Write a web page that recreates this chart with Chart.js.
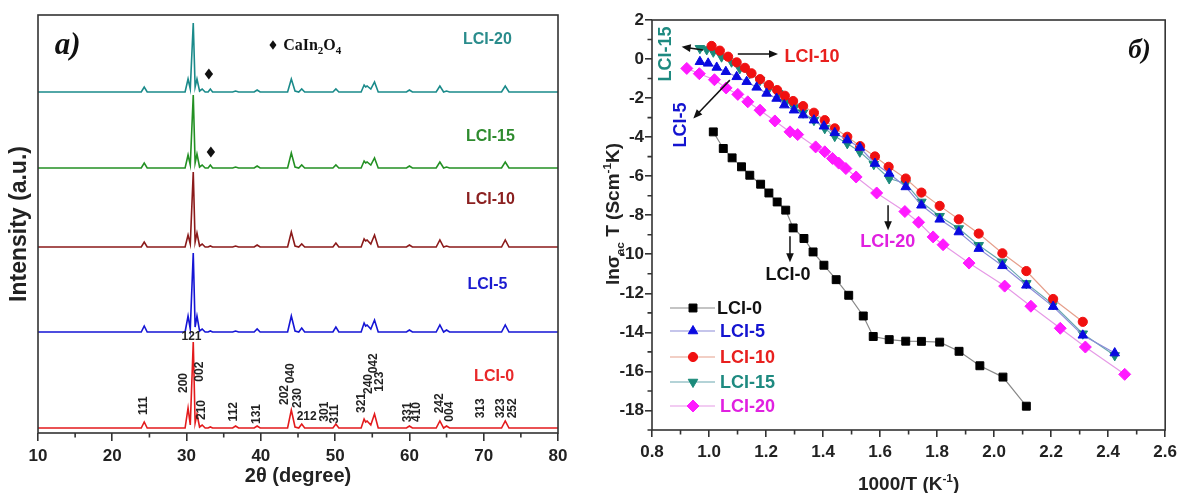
<!DOCTYPE html>
<html>
<head>
<meta charset="utf-8">
<script src="https://cdn.jsdelivr.net/npm/chart.js@4.4.0/dist/chart.umd.min.js"></script>
<style>
  html, body { margin: 0; padding: 0; background: #fff; }
  #wrap { position: relative; width: 1182px; height: 493px; }
  #xrd { position: absolute; left: 0; top: 0; }
  #cond { position: absolute; left: 590px; top: 0; }
</style>
</head>
<body>
<div id="wrap">
  <canvas id="xrd" width="590" height="493"></canvas>
  <canvas id="cond" width="592" height="493"></canvas>
</div>
<script>
// ---- panel a) XRD patterns ----
const sampleNames = ['LCI-0', 'LCI-5', 'LCI-10', 'LCI-15', 'LCI-20'];

const twoTheta = [10,
  23.9, 24.3, 24.7,
  29.8, 30.2, 30.5, 30.9, 31.15, 31.4, 31.75, 32.1, 32.5,
  32.9, 33.2, 33.5,
  36.2, 36.6, 37.0,
  39.1, 39.5, 39.9,
  43.6, 44.1, 44.6,
  45.1, 45.5, 45.9,
  49.7, 50.1, 50.5,
  53.5, 53.9, 54.1, 54.3, 54.8, 55.3, 55.8,
  59.6, 60.0, 60.4,
  63.6, 64.1, 64.6, 65.0, 65.4,
  72.4, 72.9, 73.4,
  80];

const intLCI0 = [0, 0, 6, 0, 0, 20, 3, 86, 5, 14, 1, 3, 0, 0, 1, 0, 0, 2, 0, 0, 2, 0, 0, 18, 1, 0, 4, 0, 0, 4, 0, 0, 9, 6, 7, 3, 14, 0, 0, 2, 0, 0, 7, 0, 2, 0, 0, 7, 0, 0];
const intLCI5 = [0, 0, 6, 0, 0, 16, 3, 79, 5, 16, 1, 3, 0, 0, 1, 0, 0, 1, 0, 0, 3, 0, 0, 16, 1, 0, 4, 0, 0, 5, 0, 0, 9, 6, 7, 3, 12, 0, 0, 2, 0, 0, 7, 0, 2, 0, 0, 7, 0, 0];
const intLCI10 = [0, 0, 5, 0, 0, 12, 3, 75, 5, 14, 1, 3, 0, 0, 1, 0, 0, 1, 0, 0, 2, 0, 0, 15, 1, 0, 3, 0, 0, 4, 0, 0, 8, 6, 7, 3, 12, 0, 0, 2, 0, 0, 7, 0, 1, 0, 0, 7, 0, 0];
const intLCI15 = [0, 0, 5, 0, 0, 13, 3, 73, 5, 14, 1, 3, 0, 0, 3, 0, 0, 1, 0, 0, 2, 0, 0, 15, 1, 0, 3, 0, 0, 3, 0, 0, 7, 5, 6, 3, 10, 0, 0, 2, 0, 0, 6, 0, 1, 0, 0, 6, 0, 0];
const intLCI20 = [0, 0, 5, 0, 0, 13, 3, 69, 5, 13, 1, 3, 0, 0, 3, 0, 0, 1, 0, 0, 2, 0, 0, 13, 1, 0, 3, 0, 0, 3, 0, 0, 7, 5, 6, 3, 10, 0, 0, 2, 0, 0, 6, 0, 1, 0, 0, 6, 0, 0];

const xrdTicks = [10, 20, 30, 40, 50, 60, 70, 80];
const xrdMinor = [15, 25, 35, 45, 55, 65, 75];

const hklText = ['111', '200', '002', '121', '210', '112', '131', '202', '040', '230', '212', '301', '311', '321', '240', '042', '123', '331', '410', '242', '004', '313', '323', '252'];

// ---- panel б) conductivity ----
const lci0X = [1.015, 1.050, 1.081, 1.114, 1.143, 1.181, 1.210, 1.239, 1.269, 1.295, 1.333, 1.365, 1.403, 1.446, 1.490, 1.541, 1.576, 1.632, 1.690, 1.745, 1.809, 1.877, 1.950, 2.031, 2.113];
const lci0Y = [-3.73, -4.58, -5.06, -5.52, -5.95, -6.41, -6.86, -7.32, -7.74, -8.65, -9.19, -9.88, -10.56, -11.30, -12.10, -13.16, -14.21, -14.37, -14.45, -14.46, -14.50, -14.97, -15.71, -16.29, -17.78];

const lci5X = [0.968, 0.997, 1.027, 1.059, 1.097, 1.132, 1.167, 1.202, 1.237, 1.264, 1.298, 1.330, 1.368, 1.403, 1.441, 1.485, 1.529, 1.582, 1.632, 1.690, 1.745, 1.809, 1.876, 1.946, 2.029, 2.113, 2.207, 2.311, 2.423];
const lci5Y = [-0.14, -0.22, -0.43, -0.65, -0.91, -1.16, -1.45, -1.76, -2.02, -2.36, -2.62, -2.87, -3.13, -3.44, -3.78, -4.15, -4.53, -5.35, -5.86, -6.55, -7.49, -8.21, -8.86, -9.71, -10.59, -11.59, -12.68, -14.15, -15.06];

const lci10X = [1.009, 1.038, 1.067, 1.097, 1.126, 1.149, 1.179, 1.210, 1.239, 1.266, 1.295, 1.330, 1.368, 1.406, 1.441, 1.485, 1.530, 1.582, 1.630, 1.690, 1.745, 1.809, 1.876, 1.946, 2.029, 2.113, 2.207, 2.311];
const lci10Y = [0.67, 0.43, 0.12, -0.17, -0.45, -0.73, -1.03, -1.33, -1.59, -1.88, -2.15, -2.41, -2.75, -3.13, -3.55, -3.98, -4.46, -4.99, -5.52, -6.12, -6.84, -7.52, -8.21, -8.94, -9.95, -10.86, -12.29, -13.46];

const lci15X = [0.968, 0.992, 1.015, 1.044, 1.079, 1.108, 1.143, 1.179, 1.210, 1.243, 1.269, 1.299, 1.330, 1.368, 1.406, 1.441, 1.485, 1.529, 1.578, 1.632, 1.690, 1.745, 1.809, 1.876, 1.946, 2.029, 2.113, 2.207, 2.311, 2.423];
const lci15Y = [0.55, 0.49, 0.37, 0.12, -0.14, -0.48, -0.73, -1.08, -1.50, -1.76, -2.19, -2.48, -2.75, -3.13, -3.55, -3.95, -4.32, -4.75, -5.39, -6.12, -6.37, -7.32, -8.05, -8.68, -9.54, -10.39, -11.49, -12.57, -14.07, -15.18];

const lci20X = [0.922, 0.966, 1.019, 1.060, 1.101, 1.136, 1.179, 1.231, 1.284, 1.311, 1.374, 1.406, 1.433, 1.455, 1.480, 1.516, 1.588, 1.687, 1.735, 1.786, 1.821, 1.912, 2.037, 2.129, 2.232, 2.320, 2.458];
const lci20Y = [-0.48, -0.75, -1.06, -1.48, -1.81, -2.19, -2.62, -3.17, -3.73, -3.87, -4.50, -4.75, -5.09, -5.33, -5.61, -6.04, -6.86, -7.81, -8.36, -9.11, -9.51, -10.45, -11.63, -12.66, -13.79, -14.75, -16.15];

const condXTicks = [0.8, 1.0, 1.2, 1.4, 1.6, 1.8, 2.0, 2.2, 2.4, 2.6];
const condXMinor = [0.9, 1.1, 1.3, 1.5, 1.7, 1.9, 2.1, 2.3, 2.5];
const condYTicks = [-18, -16, -14, -12, -10, -8, -6, -4, -2, 0, 2];
const condYMinor = [-19, -17, -15, -13, -11, -9, -7, -5, -3, -1, 1];

// ---- layout / style ----
const SANS = '"Liberation Sans", Arial, sans-serif';
const SERIF = '"Liberation Serif", "Times New Roman", serif';
Chart.defaults.font.family = SANS;

const xrdStackOffset = [5, 101, 186, 265, 341];
const xrdLineColors = ['#e31a1c', '#1515d5', '#8b1a1a', '#239023', '#1a8a8a'];
const xrdTextColors = ['#e8282a', '#1c1cd0', '#8b2020', '#2e8b2e', '#2a8c8c'];
const nameTheta = [71.4, 70.5, 70.9, 70.9, 70.5];
const nameLevel = [56, 148, 233, 296, 393];
const hklTheta = [24.23, 29.63, 31.78, 30.66, 32.01, 36.37, 39.43, 43.25, 44.02, 44.96, 46.17, 48.64, 49.90, 53.59, 54.48, 55.16, 56.06, 59.74, 60.92, 64.06, 65.41, 69.55, 72.34, 73.96];
const hklLevel = [27.3, 50, 61.3, 96.3, 23, 21.3, 19, 38, 59.7, 35, 16.3, 21.3, 19, 30, 49, 69.7, 51.3, 20.7, 21, 29.7, 21.3, 24.7, 24.7, 24.7];
const hklFlat = ['121', '212'];

const condMarker = ['#000000', '#0a0ae0', '#f01010', '#1a8a7a', '#ff1aff'];
const condLine = ['#8a8a8a', '#8b8bd8', '#e6a08c', '#6aa8b0', '#e69ae6'];
const condText = ['#111111', '#1414d0', '#e8201e', '#1e8a80', '#e020e0'];
const condStyle = ['rect', 'triangle', 'circle', 'triangle', 'rectRot'];
const condRot = [0, 0, 0, 180, 0];
const condRadius = [5.6, 5.5, 4.6, 5.5, 6];

function diamond(ctx, cx, cy, hw, hh) {
  ctx.beginPath();
  ctx.moveTo(cx, cy - hh); ctx.lineTo(cx + hw, cy); ctx.lineTo(cx, cy + hh); ctx.lineTo(cx - hw, cy);
  ctx.closePath(); ctx.fill();
}

function arrow(ctx, x1, y1, x2, y2) {
  const a = Math.atan2(y2 - y1, x2 - x1), h = 9, w = 3.8;
  ctx.beginPath(); ctx.moveTo(x1, y1);
  ctx.lineTo(x2 - Math.cos(a) * h * 0.7, y2 - Math.sin(a) * h * 0.7); ctx.stroke();
  ctx.beginPath(); ctx.moveTo(x2, y2);
  ctx.lineTo(x2 - h * Math.cos(a) + w * Math.sin(a), y2 - h * Math.sin(a) - w * Math.cos(a));
  ctx.lineTo(x2 - h * Math.cos(a) - w * Math.sin(a), y2 - h * Math.sin(a) + w * Math.cos(a));
  ctx.closePath(); ctx.fill();
}

// text with sub/superscripts, centred on (cx, cy)
function richText(ctx, parts, cx, cy, size, color, family, rotate) {
  ctx.save();
  ctx.translate(cx, cy);
  if (rotate) ctx.rotate(-Math.PI / 2);
  ctx.fillStyle = color;
  ctx.textAlign = 'left';
  ctx.textBaseline = 'alphabetic';
  let total = 0;
  const widths = parts.map(p => {
    ctx.font = 'bold ' + (p.s ? size * 0.62 : size) + 'px ' + family;
    const w = ctx.measureText(p.t).width;
    total += w;
    return w;
  });
  let x = -total / 2;
  parts.forEach((p, i) => {
    ctx.font = 'bold ' + (p.s ? size * 0.62 : size) + 'px ' + family;
    const dy = p.s === 'sub' ? size * 0.28 : p.s === 'sup' ? -size * 0.42 : 0;
    ctx.fillText(p.t, x, size * 0.36 + dy);
    x += widths[i];
  });
  ctx.restore();
}

function frame(ctx, ca) {
  ctx.strokeStyle = '#333';
  ctx.lineWidth = 1.6;
  ctx.strokeRect(ca.left, ca.top, ca.right - ca.left, ca.bottom - ca.top);
}

const tickFont = { family: SANS, size: 17, weight: 'bold' };

// ---------- XRD chart ----------
const xrdSeries = [intLCI0, intLCI5, intLCI10, intLCI15, intLCI20];
const xrdDatasets = sampleNames.map((name, i) => ({
  label: name,
  data: twoTheta.map((t, k) => ({ x: t, y: xrdStackOffset[i] + xrdSeries[i][k] })),
  borderColor: xrdLineColors[i],
  borderWidth: 1.6,
  pointRadius: 0,
  tension: 0,
  fill: false
}));

const xrdDecor = {
  id: 'xrdDecor',
  afterDraw(chart) {
    const { ctx, chartArea: ca, scales: { x, y } } = chart;
    ctx.save();
    frame(ctx, ca);
    ctx.beginPath();
    xrdMinor.forEach(v => { const p = x.getPixelForValue(v); ctx.moveTo(p, ca.bottom); ctx.lineTo(p, ca.bottom + 4.5); });
    ctx.stroke();

    ctx.textAlign = 'center';
    ctx.textBaseline = 'middle';
    ctx.font = 'bold 16px ' + SANS;
    sampleNames.forEach((n, i) => {
      ctx.fillStyle = xrdTextColors[i];
      ctx.fillText(n, x.getPixelForValue(nameTheta[i]), y.getPixelForValue(nameLevel[i]));
    });

    ctx.fillStyle = '#222';
    ctx.font = 'bold 12px ' + SANS;
    hklText.forEach((t, i) => {
      const px = x.getPixelForValue(hklTheta[i]), py = y.getPixelForValue(hklLevel[i]);
      ctx.save();
      ctx.translate(px, py);
      if (!hklFlat.includes(t)) ctx.rotate(-Math.PI / 2);
      ctx.fillText(t, 0, 0);
      ctx.restore();
    });

    // CaIn2O4 markers
    ctx.fillStyle = '#111';
    diamond(ctx, x.getPixelForValue(33.0), y.getPixelForValue(359), 4.2, 5.5);
    diamond(ctx, x.getPixelForValue(33.27), y.getPixelForValue(281), 4.2, 5.5);
    diamond(ctx, x.getPixelForValue(41.63), y.getPixelForValue(388), 3.5, 4.8);
    ctx.font = 'bold 16px ' + SERIF;
    ctx.textAlign = 'left';
    let tx = x.getPixelForValue(43.0);
    const ty = y.getPixelForValue(388) + 5;
    ctx.textBaseline = 'alphabetic';
    [['CaIn', 0], ['2', 1], ['O', 0], ['4', 1]].forEach(([s, sub]) => {
      ctx.font = 'bold ' + (sub ? 11 : 16) + 'px ' + SERIF;
      ctx.fillText(s, tx, ty + (sub ? 4 : 0));
      tx += ctx.measureText(s).width;
    });

    ctx.font = 'italic bold 31px ' + SERIF;
    ctx.textAlign = 'center';
    ctx.textBaseline = 'middle';
    ctx.fillText('a)', x.getPixelForValue(13.98), y.getPixelForValue(387));
    ctx.restore();
  }
};

new Chart(document.getElementById('xrd'), {
  type: 'line',
  data: { datasets: xrdDatasets },
  options: {
    responsive: false,
    animation: false,
    layout: { padding: { left: 0, right: 32, top: 15, bottom: 0 } },
    plugins: { legend: { display: false }, tooltip: { enabled: false } },
    scales: {
      x: {
        type: 'linear', min: 10, max: 80,
        afterBuildTicks: s => { s.ticks = xrdTicks.map(v => ({ value: v })); },
        afterFit: s => { s.height = 60; },
        border: { display: false },
        grid: { drawOnChartArea: false, tickLength: 8, color: '#333', lineWidth: 1.6 },
        ticks: { font: tickFont, color: '#222', padding: 5, maxRotation: 0 },
        title: { display: true, text: '2θ (degree)', font: { family: SANS, size: 20, weight: 'bold' }, color: '#222', padding: { top: 0, bottom: 5 } }
      },
      y: {
        min: 0, max: 418,
        afterFit: s => { s.width = 38; },
        border: { display: false },
        grid: { display: false },
        ticks: { display: false },
        title: { display: true, text: 'Intensity (a.u.)', font: { family: SANS, size: 23, weight: 'bold' }, color: '#222', padding: { top: 6, bottom: 0 } }
      }
    }
  },
  plugins: [xrdDecor]
});

// ---------- conductivity chart ----------
const condXs = [lci0X, lci5X, lci10X, lci15X, lci20X];
const condYs = [lci0Y, lci5Y, lci10Y, lci15Y, lci20Y];
const condDatasets = sampleNames.map((name, i) => ({
  label: name,
  data: condXs[i].map((v, k) => ({ x: v, y: condYs[i][k] })),
  showLine: true,
  borderColor: condLine[i],
  borderWidth: 1.2,
  pointStyle: condStyle[i],
  rotation: condRot[i],
  pointRotation: condRot[i],
  pointRadius: condRadius[i],
  pointBackgroundColor: condMarker[i],
  pointBorderColor: condMarker[i],
  pointBorderWidth: 1
}));

const condDecor = {
  id: 'condDecor',
  afterDraw(chart) {
    const { ctx, chartArea: ca, scales: { x, y } } = chart;
    const X = v => x.getPixelForValue(v), Y = v => y.getPixelForValue(v);
    ctx.save();
    frame(ctx, ca);
    ctx.beginPath();
    condXMinor.forEach(v => { ctx.moveTo(X(v), ca.bottom); ctx.lineTo(X(v), ca.bottom + 4.5); });
    condYMinor.forEach(v => { ctx.moveTo(ca.left, Y(v)); ctx.lineTo(ca.left - 4.5, Y(v)); });
    ctx.stroke();

    // annotations
    ctx.textAlign = 'center';
    ctx.textBaseline = 'middle';
    ctx.font = 'bold 18px ' + SANS;
    const rotLabel = (t, c, px, py) => {
      ctx.save(); ctx.translate(px, py); ctx.rotate(-Math.PI / 2);
      ctx.fillStyle = c; ctx.fillText(t, 0, 0); ctx.restore();
    };
    rotLabel('LCI-15', condText[3], X(0.849), Y(0.26));
    rotLabel('LCI-5', condText[1], X(0.902), Y(-3.38));
    ctx.fillStyle = condText[2]; ctx.fillText('LCI-10', X(1.361), Y(0.10));
    ctx.fillStyle = condText[4]; ctx.fillText('LCI-20', X(1.627), Y(-9.38));
    ctx.fillStyle = condText[0]; ctx.fillText('LCI-0', X(1.277), Y(-11.08));

    ctx.strokeStyle = '#111'; ctx.fillStyle = '#111'; ctx.lineWidth = 1.5;
    arrow(ctx, X(0.979), Y(0.46), X(0.904), Y(0.63));
    arrow(ctx, X(1.101), Y(0.26), X(1.242), Y(0.26));
    arrow(ctx, X(1.073), Y(-1.08), X(0.945), Y(-3.04));
    arrow(ctx, X(1.628), Y(-7.49), X(1.628), Y(-8.77));
    arrow(ctx, X(1.284), Y(-9.08), X(1.284), Y(-10.41));

    // legend
    const rowY = [288, 311, 337, 362, 386];
    sampleNames.forEach((n, i) => {
      const ly = ca.top + rowY[i];
      ctx.strokeStyle = condLine[i]; ctx.lineWidth = 1.2;
      ctx.beginPath(); ctx.moveTo(ca.left + 18, ly); ctx.lineTo(ca.left + 63, ly); ctx.stroke();
      ctx.fillStyle = condMarker[i]; ctx.strokeStyle = condMarker[i]; ctx.lineWidth = 1;
      Chart.helpers.drawPoint(ctx, { pointStyle: condStyle[i], rotation: condRot[i], radius: condRadius[i], borderWidth: 1 }, ca.left + 41, ly);
      ctx.fillStyle = condText[i];
      ctx.font = 'bold 18px ' + SANS;
      ctx.textAlign = 'left';
      ctx.fillText(n, ca.left + (i === 0 ? 65 : 68), ly + 1);
    });

    ctx.fillStyle = '#111';
    ctx.textAlign = 'center';
    ctx.font = 'italic bold 27px ' + SERIF;
    ctx.fillText('б)', X(2.51), Y(0.41));

    // axis titles
    richText(ctx, [{ t: 'ln' }, { t: 'σ' }, { t: 'ac', s: 'sub' }, { t: ' T (Scm' }, { t: '-1', s: 'sup' }, { t: 'K)' }],
      22, 214, 19, '#222', SANS, true);
    richText(ctx, [{ t: '1000/T (K' }, { t: '-1', s: 'sup' }, { t: ')' }],
      (ca.left + ca.right) / 2, 483, 19, '#222', SANS, false);
    ctx.restore();
  }
};

new Chart(document.getElementById('cond'), {
  type: 'scatter',
  data: { datasets: condDatasets },
  options: {
    responsive: false,
    animation: false,
    layout: { padding: { left: 0, right: 16.5, top: 20, bottom: 0 } },
    plugins: { legend: { display: false }, tooltip: { enabled: false } },
    scales: {
      x: {
        type: 'linear', min: 0.8, max: 2.6,
        afterBuildTicks: s => { s.ticks = condXTicks.map(v => ({ value: v })); },
        afterFit: s => { s.height = 63; },
        border: { display: false },
        grid: { drawOnChartArea: false, tickLength: 7, color: '#333', lineWidth: 1.6 },
        ticks: { font: tickFont, color: '#222', padding: 5, maxRotation: 0, callback: v => v.toFixed(1) }
      },
      y: {
        type: 'linear', min: -19, max: 2,
        afterBuildTicks: s => { s.ticks = condYTicks.map(v => ({ value: v })); },
        afterFit: s => { s.width = 62; },
        border: { display: false },
        grid: { drawOnChartArea: false, tickLength: 7, color: '#333', lineWidth: 1.6 },
        ticks: { font: tickFont, color: '#222', padding: 1, callback: v => String(v) }
      }
    }
  },
  plugins: [condDecor]
});
</script>
</body>
</html>
